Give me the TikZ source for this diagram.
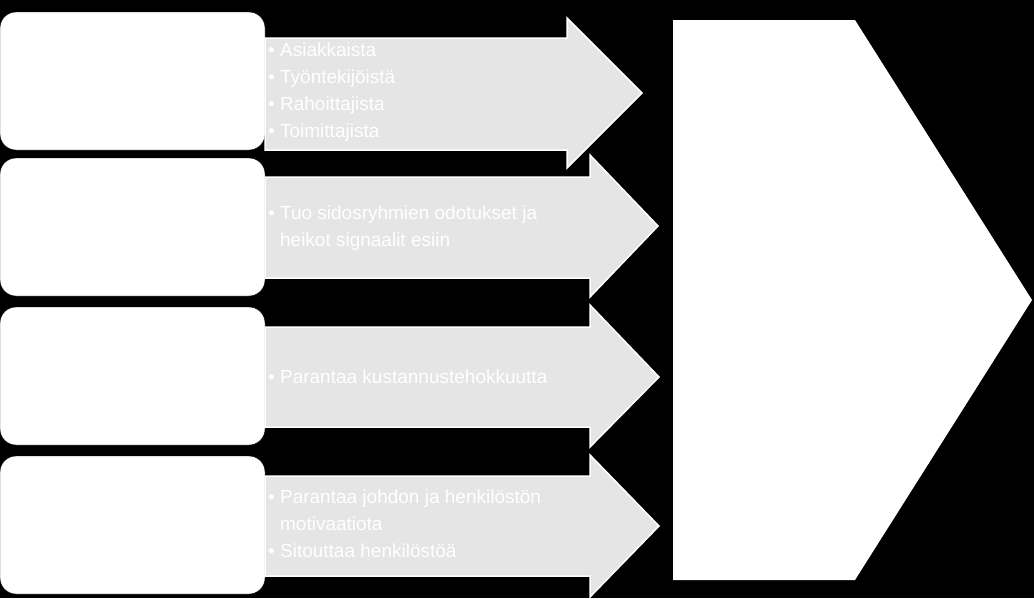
\documentclass[tikz,border=0pt]{standalone}
\usepackage{fontspec}
\setmainfont{Liberation Sans}
\usetikzlibrary{positioning}

\tikzset{
  sidebox/.style={fill=white,draw=black,rounded corners=16pt},
  bigarrow/.style={fill=black!10,draw=white,line width=1.5pt,line join=miter},
  arrowtext/.style={text=white,font=\fontsize{19}{27}\selectfont,align=left,anchor=west,inner sep=0pt}
}

\begin{document}
\begin{tikzpicture}[line cap=round,line join=round,x=1pt,y=-1pt]
            \fill[black] (0,0) rectangle (1034,598);
            \useasboundingbox (0,0) rectangle (1034,598);

            % boxes on the left
            \foreach \i/\t in {1/12,2/158,3/307,4/456}
              \draw [sidebox] (0,\t) rectangle (265,\t+138) coordinate (b\i);

            % grey arrows
            \draw [bigarrow] (265,38) -- (567,38) -- (567,18) -- (642,93) -- (567,168) -- (567,150) -- (265,150) -- cycle;
            \draw [bigarrow] (265,177) -- (590,177) -- (590,155) -- (658,226) -- (590,297) -- (590,278) -- (265,278) -- cycle;
            \draw [bigarrow] (265,327) -- (590,327) -- (590,305) -- (659,377) -- (590,447) -- (590,427) -- (265,427) -- cycle;
            \draw [bigarrow] (265,476) -- (590,476) -- (590,455) -- (659,526) -- (590,597) -- (590,576) -- (265,576) -- cycle;

            % texts
            \node [arrowtext] (t1) at (268,92) {• Asiakkaista\\• Työntekijöistä\\• Rahoittajista\\• Toimittajista};
            \node [arrowtext] (t2) at (268,228) {• Tuo sidosryhmien odotukset ja\\\phantom{• }heikot signaalit esiin};
            \node [arrowtext] (t3) at (268,377) {• Parantaa kustannustehokkuutta};
            \node [arrowtext] (t4) at (268,524) {• Parantaa johdon ja henkilöstön\\\phantom{• }motivaatiota\\• Sitouttaa henkilöstöä};

            % big chevron on the right
            \fill [white] (673,20) -- (855,20) -- (1032,300) -- (855,580) -- (673,580) -- cycle;
\end{tikzpicture}
\end{document}
